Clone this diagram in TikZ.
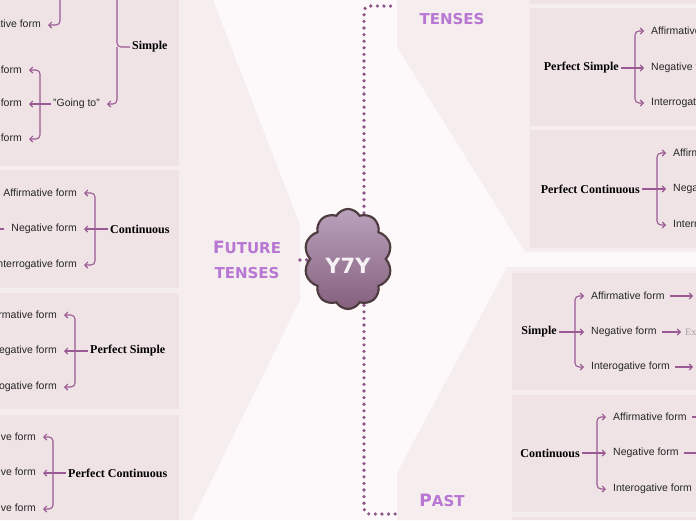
\documentclass[tikz,border=0pt]{standalone}
\usepackage{fontspec}
\setmainfont{Liberation Sans}
\newfontfamily\headfont{Liberation Serif}
\newfontfamily\tensefont{DejaVu Sans}
\usetikzlibrary{arrows.meta, shapes.symbols}
\definecolor{pagebg}{HTML}{FDF9FA}
\definecolor{panelpink}{HTML}{F5EDEE}
\definecolor{boxpink}{HTML}{EFE3E5}
\definecolor{branchpurple}{HTML}{9A5A94}
\definecolor{dotpurple}{HTML}{8C5588}
\definecolor{tenselilac}{HTML}{B777D2}
\definecolor{cloudtop}{HTML}{B9A2BC}
\definecolor{cloudbottom}{HTML}{85607E}
\definecolor{cloudedge}{HTML}{4F3C40}
\definecolor{examplegrey}{HTML}{A9A1A3}
\pgfdeclarelayer{backdrop}
\pgfsetlayers{backdrop,main}

\begin{document}
\begin{tikzpicture}[x=1pt, y=-1pt,
  item/.style={font=\fontsize{10.5}{12}\selectfont, inner sep=2pt, text=black!85},
  heading/.style={font=\headfont\bfseries\fontsize{12}{14}\selectfont, inner sep=2pt},
  sample/.style={font=\headfont\fontsize{10}{12}\selectfont, inner sep=2pt, text=examplegrey},
  tenselabel/.style={font=\tensefont\bfseries\fontsize{15}{25}\selectfont,
                     text=tenselilac, align=center, inner sep=1pt},
  branch/.style={draw=branchpurple, line width=1.1pt, rounded corners=4pt,
                 -{Straight Barb[length=3pt, width=6pt]}, shorten >=5pt},
  lead/.style={branch, shorten <=3pt, shorten >=2pt},
  dotlink/.style={draw=dotpurple, line width=3.6pt, line cap=round,
                  dash pattern=on 0pt off 6.6pt, rounded corners=5pt},
  tensebox/.style={fill=boxpink}]
  \useasboundingbox (0,0) rectangle (696,520);
  \clip (0,0) rectangle (696,520);

  \begin{pgfonlayer}{backdrop}
    \fill[pagebg] (0,0) rectangle (696,520);
    % panels behind the three groups
    \fill[panelpink] (0,0) -- (213,0) -- (300,225) -- (300,300) -- (192,520) -- (0,520) -- cycle;
    \fill[panelpink] (397,0) -- (696,0) -- (696,252) -- (525,252) -- (397,47) -- cycle;
    \fill[panelpink] (507,267) -- (696,267) -- (696,520) -- (397,520) -- (397,473) -- cycle;
    % boxes
    \fill[tensebox] (0,0) rectangle (179,166);
    \fill[tensebox] (0,170) rectangle (179,288);
    \fill[tensebox] (0,293) rectangle (179,409);
    \fill[tensebox] (0,415) rectangle (179,520);
    \fill[tensebox] (530,0) rectangle (696,4);
    \fill[tensebox] (530,8) rectangle (696,126);
    \fill[tensebox] (530,130) rectangle (696,248);
    \fill[tensebox] (512,273) rectangle (696,390);
    \fill[tensebox] (512,395) rectangle (696,512);
    \fill[tensebox] (512,517) rectangle (696,520);
  \end{pgfonlayer}

  % centre
  \node[cloud, cloud puffs=10, cloud puff arc=120, minimum width=88pt, minimum height=100pt,
        draw=cloudedge, line width=2.2pt, top color=cloudtop, bottom color=cloudbottom,
        text=white!85!cloudtop, font=\tensefont\bfseries\fontsize{21}{21}\selectfont]
    (cloud) at (348,259) {\raisebox{-7pt}[\height][\depth]{Y7Y}};

  \node[tenselabel] (futurelbl) at (247,260) {{\fontsize{17}{17}\selectfont F}UTURE\\TENSES};
  \node[tenselabel] (presentlbl) at (452,19) {TENSES};
  \node[tenselabel] (pastlbl) at (442,500) {{\fontsize{17}{17}\selectfont P}AST};
  \coordinate (futureend) at (300,260);
  \coordinate (presentend) at (397,6);
  \coordinate (pastend) at (398,514);

  \begin{pgfonlayer}{backdrop}
    \draw[dotlink] (futureend) -- (cloud);
    \draw[dotlink] ([xshift=16pt]cloud.center) |- (presentend);
    \draw[dotlink] ([xshift=16pt]cloud.center) |- (pastend);
  \end{pgfonlayer}

  % future: simple
  \node[heading, anchor=west] (fsimple) at (130,47) {Simple};
  \coordinate (fsimplesp) at (117,47);
  \coordinate (fwillend) at (117,-20);
  \node[item, anchor=east] (fgoing) at (102,104) {"Going to"};
  \draw[branch, -] (fsimple.west) -- (fsimplesp) -- (fwillend);
  \draw[branch] (fsimplesp) |- (fgoing.east);
  \coordinate (fwillsp) at (60,-10);
  \node[item, anchor=east] (fwillint) at (43,25) {Interrogative form};
  \draw[branch] (fwillsp) |- (fwillint.east);
  \coordinate (fgoingsp) at (40,104);
  \node[item, anchor=east] (fgoaff) at (24,70) {Affirmative form};
  \node[item, anchor=east] (fgoneg) at (24,104) {Negative form};
  \node[item, anchor=east] (fgoint) at (24,139) {Interrogative form};
  \draw[branch] (fgoing.west) -- (fgoneg.east);
  \draw[branch] (fgoingsp) |- (fgoaff.east);
  \draw[branch] (fgoingsp) |- (fgoint.east);

  % future: continuous
  \node[heading, anchor=west] (fcont) at (108,229) {Continuous};
  \coordinate (fcontsp) at (95,229);
  \node[item, anchor=east] (fcontaff) at (79,193) {Affirmative form};
  \node[item, anchor=east] (fcontneg) at (79,229) {Negative form};
  \node[item, anchor=east] (fcontint) at (79,265) {Interrogative form};
  \coordinate (fcontnegend) at (-20,229);
  \draw[branch] (fcont.west) -- (fcontneg.east);
  \draw[branch] (fcontsp) |- (fcontaff.east);
  \draw[branch] (fcontsp) |- (fcontint.east);
  \draw[branch, shorten <=5pt] (fcontneg.west) -- (fcontnegend);

  % future: perfect simple
  \node[heading, anchor=west] (fpsimple) at (88,351) {Perfect Simple};
  \coordinate (fpsimplesp) at (75,351);
  \node[item, anchor=east] (fpsimpleaff) at (59,315) {Affirmative form};
  \node[item, anchor=east] (fpsimpleneg) at (59,351) {Negative form};
  \node[item, anchor=east] (fpsimpleint) at (59,387) {Interrogative form};
  \draw[branch] (fpsimple.west) -- (fpsimpleneg.east);
  \draw[branch] (fpsimplesp) |- (fpsimpleaff.east);
  \draw[branch] (fpsimplesp) |- (fpsimpleint.east);

  % future: perfect continuous
  \node[heading, anchor=west] (fpcont) at (66,473) {Perfect Continuous};
  \coordinate (fpcontsp) at (53,473);
  \node[item, anchor=east] (fpcontaff) at (38,437) {Affirmative form};
  \node[item, anchor=east] (fpcontneg) at (38,473) {Negative form};
  \node[item, anchor=east] (fpcontint) at (38,509) {Interrogative form};
  \draw[branch] (fpcont.west) -- (fpcontneg.east);
  \draw[branch] (fpcontsp) |- (fpcontaff.east);
  \draw[branch] (fpcontsp) |- (fpcontint.east);

  % present: perfect simple
  \node[heading, anchor=east] (ppsimple) at (621,68) {Perfect Simple};
  \coordinate (ppsimplesp) at (635,68);
  \node[item, anchor=west] (ppsimpleaff) at (649,31) {Affirmative form};
  \node[item, anchor=west] (ppsimpleneg) at (649,68) {Negative form};
  \node[item, anchor=west] (ppsimpleint) at (649,103) {Interrogative form};
  \draw[branch] (ppsimple.east) -- (ppsimpleneg.west);
  \draw[branch] (ppsimplesp) |- (ppsimpleaff.west);
  \draw[branch] (ppsimplesp) |- (ppsimpleint.west);

  % present: perfect continuous
  \node[heading, anchor=east] (ppcont) at (642,189) {Perfect Continuous};
  \coordinate (ppcontsp) at (657,189);
  \node[item, anchor=west] (ppcontaff) at (671,153) {Affirmative form};
  \node[item, anchor=west] (ppcontneg) at (671,189) {Negative form};
  \node[item, anchor=west] (ppcontint) at (671,225) {Interrogative form};
  \draw[branch] (ppcont.east) -- (ppcontneg.west);
  \draw[branch] (ppcontsp) |- (ppcontaff.west);
  \draw[branch] (ppcontsp) |- (ppcontint.west);

  % past: simple
  \node[heading, anchor=east] (pasimple) at (559,332) {Simple};
  \coordinate (pasimplesp) at (575,332);
  \node[item, anchor=west] (pasimpleaff) at (589,296) {Affirmative form};
  \node[item, anchor=west] (pasimpleneg) at (589,332) {Negative form};
  \node[item, anchor=west] (pasimpleint) at (589,367) {Interogative form};
  \node[sample, anchor=west] (pasimpleex) at (683,332) {Ex};
  \coordinate (pasimpleaffend) at (695,296);
  \coordinate (pasimpleintend) at (695,367);
  \draw[branch] (pasimple.east) -- (pasimpleneg.west);
  \draw[branch] (pasimplesp) |- (pasimpleaff.west);
  \draw[branch] (pasimplesp) |- (pasimpleint.west);
  \draw[lead] (pasimpleaff.east) -- (pasimpleaffend);
  \draw[lead] (pasimpleneg.east) -- (pasimpleex.west);
  \draw[lead] (pasimpleint.east) -- (pasimpleintend);

  % past: continuous
  \node[heading, anchor=east] (pacont) at (582,453) {Continuous};
  \coordinate (pacontsp) at (597,453);
  \node[item, anchor=west] (pacontaff) at (611,417) {Affirmative form};
  \node[item, anchor=west] (pacontneg) at (611,453) {Negative form};
  \node[item, anchor=west] (pacontint) at (611,489) {Interogative form};
  \coordinate (pacontaffend) at (730,417);
  \coordinate (pacontnegend) at (730,453);
  \draw[branch] (pacont.east) -- (pacontneg.west);
  \draw[branch] (pacontsp) |- (pacontaff.west);
  \draw[branch] (pacontsp) |- (pacontint.west);
  \draw[lead] (pacontaff.east) -- (pacontaffend);
  \draw[lead] (pacontneg.east) -- (pacontnegend);
\end{tikzpicture}
\end{document}
